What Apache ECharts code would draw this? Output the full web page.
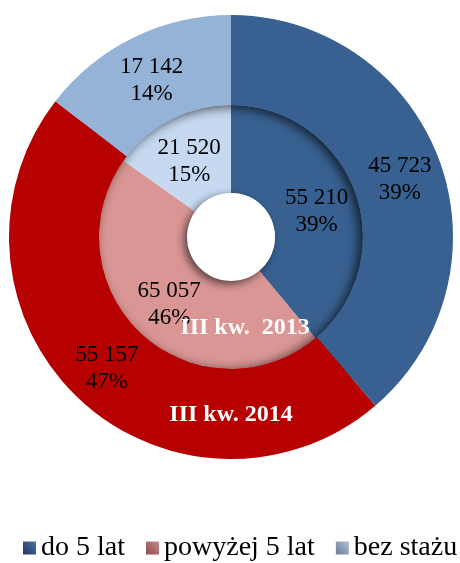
<!DOCTYPE html>
<html>
<head>
<meta charset="utf-8">
<script src="https://cdn.jsdelivr.net/npm/echarts@6/dist/echarts.min.js"></script>
<style>
html,body{margin:0;padding:0;background:#fff;}
#chart{width:460px;height:563px;}
</style>
</head>
<body>
<div id="chart"></div>
<script>
const categories = ['do 5 lat', 'powyżej 5 lat', 'bez stażu'];
const values2014 = [45723, 55157, 17142];
const values2013 = [55210, 65057, 21520];
const ringTitles = ['III kw. 2014', 'III kw.  2013'];

const outerColors = ['#386191', '#b70000', '#95b3d7'];
const innerColors = ['#386191', '#d99694', '#c6d9f1'];
const legendColors = [
  ['#1c3961', '#4d72a2'],
  ['#8c4d4d', '#c48b8b'],
  ['#6a7c97', '#b2c1d5']
];

function fmt(v) {
  return String(v).replace(/\B(?=(\d{3})+(?!\d))/g, ' ');
}
function mk(vals, colors) {
  return categories.map((c, i) => ({ name: c, value: vals[i], itemStyle: { color: colors[i] } }));
}

const CENTER = [231, 237];
const FONT = '"Liberation Serif", "Times New Roman", serif';

const labelCfg = {
  show: true,
  position: 'inside',
  formatter: p => fmt(p.value) + '\n' + p.percent + '%',
  color: '#000',
  fontFamily: FONT,
  fontSize: 23,
  lineHeight: 27,
  textBorderWidth: 0
};
// Labels in the upper half sit a little lower in the original than at mid-sector
const labelShift = params => ({ dy: (params.labelRect.y + params.labelRect.height / 2) < CENTER[1] ? 5 : 1 });

const chart = echarts.init(document.getElementById('chart'), null, { renderer: 'canvas' });
chart.setOption({
  animation: false,
  backgroundColor: '#fff',
  legend: {
    data: categories.map((c, i) => ({
      name: c,
      itemStyle: {
        color: {
          type: 'linear', x: 0, y: 1, x2: 1, y2: 0,
          colorStops: [{ offset: 0, color: legendColors[i][0] }, { offset: 1, color: legendColors[i][1] }]
        }
      }
    })),
    left: 23,
    top: 534,
    width: 437,
    padding: 0,
    icon: 'rect',
    itemWidth: 13,
    itemHeight: 13,
    itemGap: 21,
    textStyle: { color: '#000', fontFamily: FONT, fontSize: 28 }
  },
  graphic: [
    {
      type: 'text', x: 231, y: 415, z: 100,
      style: { text: ringTitles[0], fill: '#fff', font: 'bold 24px ' + FONT, textAlign: 'center', textVerticalAlign: 'middle' }
    },
    {
      type: 'text', x: 245, y: 328, z: 100,
      style: { text: ringTitles[1], fill: '#fff', font: 'bold 24px ' + FONT, textAlign: 'center', textVerticalAlign: 'middle' }
    }
  ],
  series: [
    {
      name: 'III kw. 2013',
      type: 'pie',
      center: CENTER,
      radius: [44, 132],
      startAngle: 90,
      clockwise: true,
      percentPrecision: 0,
      avoidLabelOverlap: false,
      silent: true,
      data: mk(values2013, innerColors),
      itemStyle: { borderWidth: 0 },
      label: labelCfg,
      labelLayout: labelShift,
      labelLine: { show: false },
      emphasis: { disabled: true }
    },
    {
      name: 'shadow',
      type: 'pie',
      center: CENTER,
      radius: [132, 185],
      startAngle: 90,
      silent: true,
      data: mk(values2014, outerColors),
      itemStyle: {
        borderWidth: 0,
        shadowBlur: 11,
        shadowColor: 'rgba(0,0,0,0.7)',
        shadowOffsetX: -4,
        shadowOffsetY: 2
      },
      label: { show: false },
      labelLine: { show: false },
      emphasis: { disabled: true }
    },
    {
      name: 'III kw. 2014',
      type: 'pie',
      center: CENTER,
      radius: [132, 222],
      startAngle: 90,
      clockwise: true,
      percentPrecision: 0,
      avoidLabelOverlap: false,
      silent: true,
      data: mk(values2014, outerColors),
      itemStyle: { borderWidth: 0 },
      label: labelCfg,
      labelLayout: labelShift,
      labelLine: { show: false },
      emphasis: { disabled: true }
    },
    {
      name: 'hole',
      type: 'pie',
      center: CENTER,
      radius: [0, 44],
      silent: true,
      data: [{ name: 'hole', value: 1, itemStyle: { color: '#fff' } }],
      itemStyle: {
        borderWidth: 0,
        shadowBlur: 9,
        shadowColor: 'rgba(0,0,0,0.6)',
        shadowOffsetX: -3,
        shadowOffsetY: 3
      },
      label: { show: false },
      labelLine: { show: false },
      emphasis: { disabled: true }
    }
  ]
});
</script>
</body>
</html>
